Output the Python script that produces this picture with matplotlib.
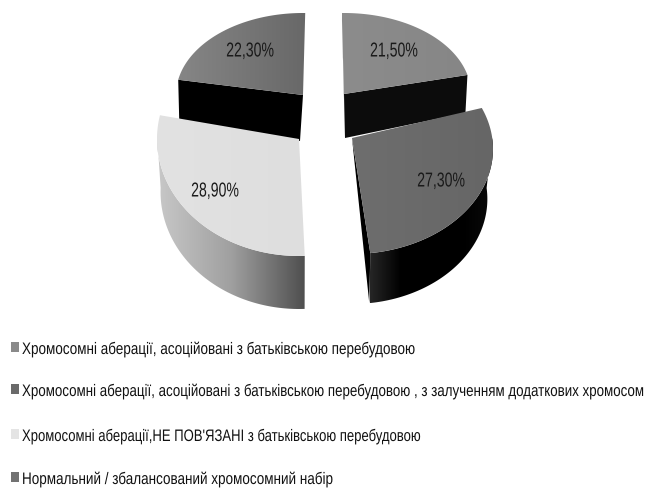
import matplotlib
matplotlib.use("Agg")
import matplotlib.pyplot as plt
import numpy as np
from matplotlib.patches import Polygon
from matplotlib.patheffects import AbstractPathEffect
from matplotlib.transforms import Affine2D

plt.rcParams['font.family'] = ['Liberation Sans', 'DejaVu Sans']

# shares of each karyotype group, percent
values = [21.5, 27.3, 28.9, 22.3]
legend_labels = [
    "Хромосомні аберації, асоційовані з батьківською перебудовою",
    "Хромосомні аберації, асоційовані з батьківською перебудовою , з залученням додаткових хромосом",
    "Хромосомні аберації,НЕ ПОВ'ЯЗАНІ з батьківською перебудовою",
    "Нормальний / збалансований хромосомний набір",
]
legend_colors = ['#8a8a8a', '#6a6a6a', '#e4e4e4', '#727272']
legend_y = [348, 390, 435, 478]
legend_sizes = [9.72, 9.6, 9.42, 9.72]

# per-slice projection: ellipse centre and radii, angle offset and stretch
centers = [(344, 95), (352, 150), (299, 140), (303, 96)]
apexes = [(344, 95), (352, 139), (299, 140), (303, 96)]
radii = [(127, 81), (141, 105), (142, 117), (127, 82)]
offsets = [-1, -10.4, 2, 1]
stretch = [1, 1.074, 1, 1]
top_shades = [('#8c8c8c', '#868686'), ('#6e6e6e', '#666666'),
              ('#e2e2e2', '#dedede'), ('#868686', '#686868')]
label_base = [(394, 57.5), (441, 187.5), (215, 197.5), (250, 57.5)]


class TallGlyphs(AbstractPathEffect):
    # stretches glyphs upwards from the baseline
    def __init__(self, sy):
        self.sy = sy

    def draw_path(self, renderer, gc, tpath, affine, rgbFace=None):
        m = affine.get_matrix().copy()
        m[1, 0] *= self.sy
        m[1, 1] *= self.sy
        renderer.draw_path(gc, tpath, Affine2D(m), rgbFace)


def fill_ramp(ax, pts, stops, zorder):
    # horizontal gradient clipped to a polygon
    pts = np.asarray(pts)
    rgb = np.array([matplotlib.colors.to_rgb(c) for c in stops])
    pos = np.linspace(0, 1, len(stops))
    grid = np.linspace(0, 1, 256)
    img = np.column_stack([np.interp(grid, pos, rgb[:, k]) for k in range(3)])[np.newaxis, :, :]
    im = ax.imshow(img, aspect='auto', zorder=zorder, interpolation='bilinear',
                   extent=(pts[:, 0].min(), pts[:, 0].max(), pts[:, 1].max(), pts[:, 1].min()))
    im.set_clip_path(Polygon(pts, closed=True, transform=ax.transData))


def arc(i, t0, t1, drop=0.0, shrink=1.0):
    t = np.radians(np.linspace(t0, t1, 120))
    cx, cy = centers[i]
    rx, ry = radii[i]
    return np.column_stack([cx + rx * shrink * np.sin(t), cy + drop - ry * np.cos(t)])


fig = plt.figure(figsize=(6.46, 4.89), dpi=100)
ax = fig.add_axes([0, 0, 1, 1])

cum = np.cumsum([0] + values[:-1]) * 3.6
starts = [c + o for c, o in zip(cum, offsets)]
ends = [s + v * 3.6 * k for s, v, k in zip(starts, values, stretch)]

# cut faces of the two back slices
for i, apex_drop, end_drop, apex_dx, end_dx, color in [(0, 44, 38, 1, -2, '#0c0c0c'), (3, 46, 40, -3, 1, '#000000')]:
    apex = np.array(apexes[i], dtype=float)
    end = arc(i, starts[i], ends[i])[-1 if i == 0 else 0]
    ax.fill([apex[0], end[0], end[0] + end_dx, apex[0] + apex_dx],
            [apex[1], end[1], end[1] + end_drop, apex[1] + apex_drop], color=color, lw=0, zorder=1)
start0 = arc(0, starts[0], ends[0])[0]
ax.fill([start0[0], apexes[0][0], apexes[0][0] + 1], [start0[1], apexes[0][1], apexes[0][1] + 44],
        color='#1a1a1a', lw=0, zorder=1)

# outer walls of the two front slices
wall_2 = np.vstack([arc(1, 84, ends[1]), arc(1, 84, ends[1], drop=50, shrink=0.96)[::-1]])
fill_ramp(ax, wall_2, ['#262626', '#000000', '#000000', '#000000', '#0a0a0a'], 2)
wall_3 = np.vstack([arc(2, starts[2], 272), arc(2, starts[2], 272, drop=53, shrink=0.975)[::-1]])
fill_ramp(ax, wall_3, ['#c8c8c8', '#a0a0a0', '#4f4f4f'], 2)

# thin inner edge of the right slice
end1 = arc(1, starts[1], ends[1])[-1]
ax.fill([apexes[1][0], end1[0], end1[0] - 1], [apexes[1][1], end1[1], end1[1] + 50], color='#000000', lw=0, zorder=2)

# top faces and percent labels
for i in range(4):
    top = np.vstack([[apexes[i]], arc(i, starts[i], ends[i])])
    fill_ramp(ax, top, top_shades[i], 3)
    ax.text(label_base[i][0], label_base[i][1], f"{values[i]:.2f}".replace('.', ',') + '%',
            ha='center', va='baseline', fontsize=10.15, color='#1a1a1a', zorder=5,
            path_effects=[TallGlyphs(1.43)])

# legend
for label, color, y, size in zip(legend_labels, legend_colors, legend_y, legend_sizes):
    ax.fill([11, 19, 19, 11], [y - 5, y - 5, y + 5, y + 5], color=color, lw=0)
    ax.text(22, y + 7, label, ha='left', va='baseline', fontsize=size, color='#111111',
            path_effects=[TallGlyphs(12 / size)])

ax.set_xlim(0, 646)
ax.set_ylim(489, 0)
ax.axis('off')
fig.savefig('out.png', dpi=100)
